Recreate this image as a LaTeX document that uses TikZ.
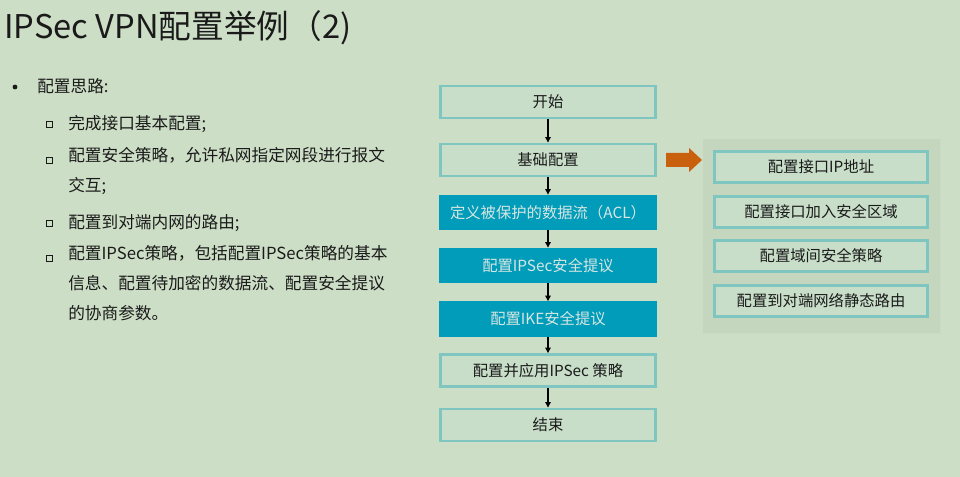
\documentclass[tikz,border=0pt]{standalone}
\usepackage{fontspec}
\setmainfont{Noto Sans CJK SC}
\newfontfamily\cjk{Noto Sans CJK SC}
\usetikzlibrary{arrows.meta}
\definecolor{bg}{HTML}{CDDEC6}
\definecolor{boxfill}{HTML}{C8DEC9}
\definecolor{boxline}{HTML}{7FC6C1}
\definecolor{bluebox}{HTML}{009CB9}
\definecolor{bluetext}{HTML}{D8E6E3}
\definecolor{panel}{HTML}{C4D6BE}
\definecolor{orangearr}{HTML}{C8600E}
\definecolor{txt}{HTML}{1A1A1A}
\tikzset{
  lightbox/.style={draw=boxline, line width=2.2pt, fill=boxfill, minimum width=161pt, minimum height=24pt, inner sep=0pt, font=\cjk\fontsize{11.5}{13}\selectfont, text=txt},
  bluestep/.style={fill=bluebox, minimum width=163.5pt, minimum height=26.5pt, inner sep=0pt, font=\cjk\fontsize{11.5}{13}\selectfont, text=bluetext},
  sidebox/.style={draw=boxline, line width=2.2pt, fill=boxfill, minimum width=159.5pt, minimum height=23.5pt, inner sep=0pt, font=\cjk\fontsize{11.5}{13}\selectfont, text=txt},
  flowarrow/.style={-{Triangle[length=4pt,width=4pt]}, line width=0.8pt, black},
  bodytext/.style={anchor=west, inner sep=0pt, font=\cjk\fontsize{12.5}{22.5}\selectfont, text=txt, align=left},
}
\begin{document}
\begin{tikzpicture}[x=0.75pt,y=-0.75pt]
\fill[bg] (0,0) rectangle (960,477);
\useasboundingbox (0,0) rectangle (960,477);
% title
\node[anchor=west, inner sep=0pt, font=\cjk\fontsize{24.5}{28}\selectfont, text=txt] (title) at (4,28) {IPSec VPN配置举例（2)};
% left bullets
\fill[txt] (15,87) circle (2.4);
\node[bodytext] (t0) at (37,86) {配置思路:};
\foreach \y/\n in {124/s1,160/s2,223/s3,258/s4}{
  \node[draw=txt, line width=0.6pt, minimum size=4.5pt, inner sep=0pt] (\n) at (49.5,\y) {};
}
\node[bodytext] (t1) at (68,124) {完成接口基本配置;};
\node[bodytext, anchor=north west] (t2) at (68,147) {配置安全策略，允许私网指定网段进行报文\\交互;};
\node[bodytext] (t3) at (68,223) {配置到对端内网的路由;};
\node[bodytext, anchor=north west] (t4) at (68,245) {配置IPSec策略，包括配置IPSec策略的基本\\信息、配置待加密的数据流、配置安全提议\\的协商参数。};
% flow chart
\node[lightbox] (n1) at (548,102) {开始};
\node[lightbox] (n2) at (548,160) {基础配置};
\node[bluestep] (n3) at (548,212.5) {定义被保护的数据流（ACL）};
\node[bluestep] (n4) at (548,265.5) {配置IPSec安全提议};
\node[bluestep] (n5) at (548,319) {配置IKE安全提议};
\node[lightbox] (n6) at (548,370.5) {配置并应用IPSec 策略};
\node[lightbox] (n7) at (548,425) {结束};
\draw[flowarrow] (n1) -- (n2);
\draw[flowarrow] (n2) -- (n3);
\draw[flowarrow] (n3) -- (n4);
\draw[flowarrow] (n4) -- (n5);
\draw[flowarrow] (n5) -- (n6);
\draw[flowarrow] (n6) -- (n7);
% right panel
\node[fill=panel, draw=panel!85!black!60, dotted, line width=0.6pt, minimum width=177.75pt, minimum height=145.5pt, inner sep=0pt] (panel) at (821.5,236) {};
\node[sidebox] (r1) at (821,167) {配置接口IP地址};
\node[sidebox] (r2) at (821,212) {配置接口加入安全区域};
\node[sidebox] (r3) at (821,256) {配置域间安全策略};
\node[sidebox] (r4) at (821,301) {配置到对端网络静态路由};
% orange arrow
\fill[orangearr] (666,153) -- (689,153) -- (689,148) -- (702,160) -- (689,172) -- (689,167) -- (666,167) -- cycle;
\end{tikzpicture}
\end{document}
